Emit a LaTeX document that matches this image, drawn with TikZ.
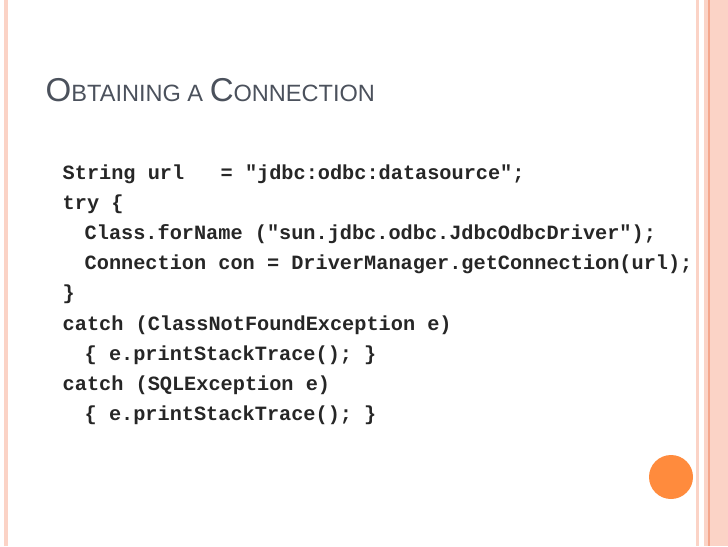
\documentclass[tikz,border=0pt]{standalone}
\usepackage{fontspec}
\setmainfont{Liberation Sans}
\setmonofont{Liberation Mono}
\definecolor{stripe}{HTML}{FBD3C6}
\definecolor{stripedark}{HTML}{F4A68C}
\definecolor{dot}{HTML}{FF8B3D}
\definecolor{titlegray}{HTML}{4B515C}
\tikzset{
  codeline/.style={anchor=base west, inner sep=0pt, font=\fontsize{5.76}{6}\ttfamily\bfseries, text=black!85},
}
\begin{document}
\begin{tikzpicture}[x=0.01cm, y=-0.01cm]
  \useasboundingbox (0,0) rectangle (728,546);
  % borders
  \fill [stripe] (4,0) rectangle (8,546);
  \fill [stripe] (696,0) rectangle (699,546);
  \fill [stripe] (704,0) rectangle (728,546);
  \fill [stripedark] (708,0) rectangle (709.5,546);
  \fill [dot] (671,477) circle (22);
  % title
  \node [anchor=base west, inner sep=0pt, text=titlegray] (title) at (45,102)
    {\fontsize{9.4}{10}\selectfont O\fontsize{6.7}{7}\selectfont BTAINING A \fontsize{9.4}{10}\selectfont C\fontsize{6.7}{7}\selectfont ONNECTION};
  % code
  \node [codeline] (l1) at (62,180) {String url~~~= "jdbc:odbc:datasource";};
  \node [codeline] (l2) at (62,210) {try \{};
  \node [codeline] (l3) at (84,240) {Class.forName ("sun.jdbc.odbc.JdbcOdbcDriver");};
  \node [codeline] (l4) at (84,270) {Connection con = DriverManager.getConnection(url);};
  \node [codeline] (l5) at (62,300) {\}};
  \node [codeline] (l6) at (62,330) {catch (ClassNotFoundException e)};
  \node [codeline] (l7) at (84,360) {\{ e.printStackTrace(); \}};
  \node [codeline] (l8) at (62,390) {catch (SQLException e)};
  \node [codeline] (l9) at (84,420) {\{ e.printStackTrace(); \}};
\end{tikzpicture}
\end{document}
